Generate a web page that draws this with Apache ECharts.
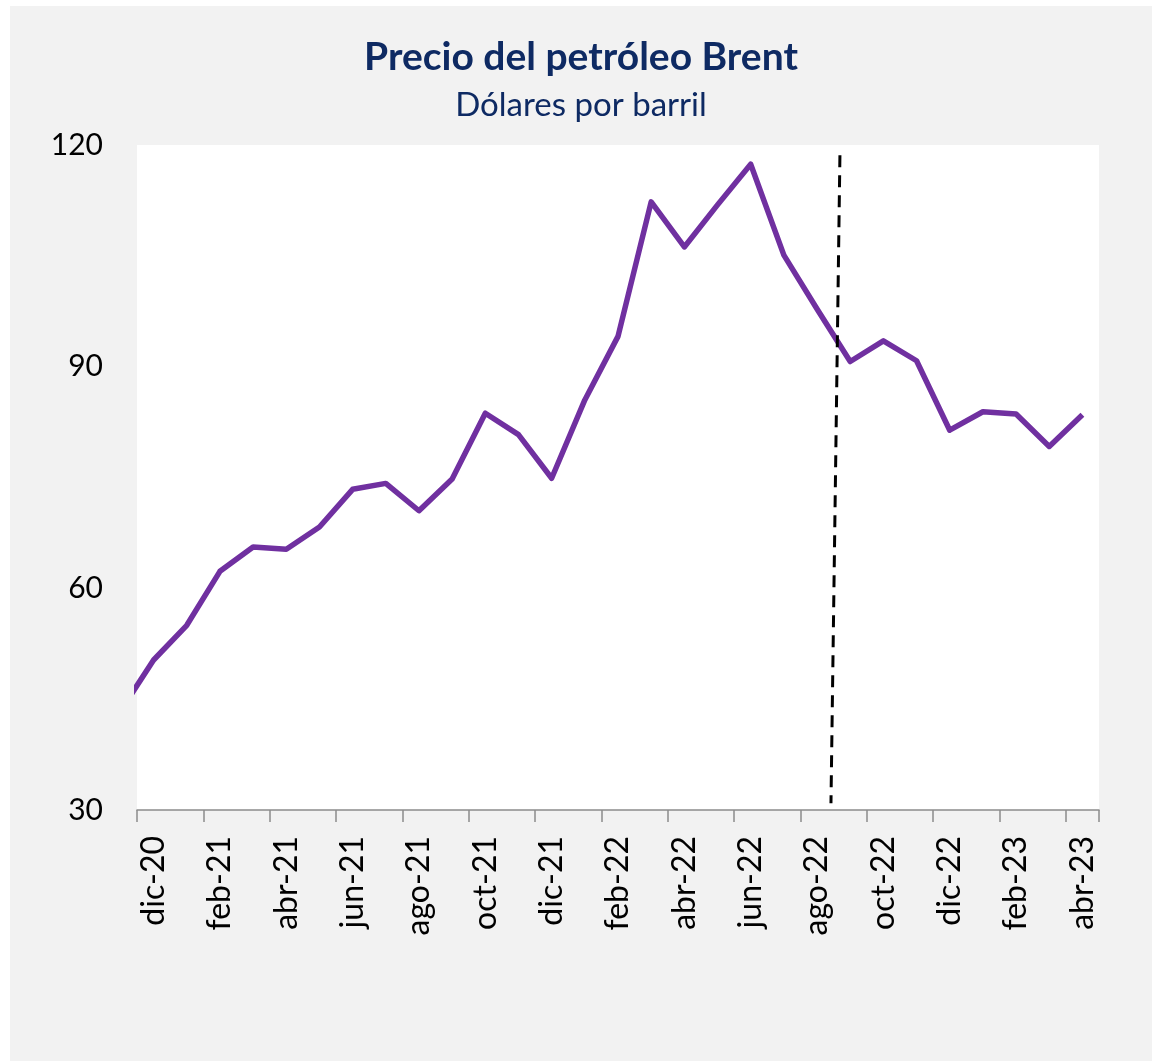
<!DOCTYPE html>
<html>
<head>
<meta charset="utf-8">
<script src="https://cdn.jsdelivr.net/npm/echarts@6/dist/echarts.min.js"></script>
<style>
    html, body { margin: 0; padding: 0; background: #ffffff; }
    #main { position: absolute; left: 10px; top: 6px; width: 1142px; height: 1055px; background: #f2f2f2; }
</style>
</head>
<body>
<div id="main"></div>
<script>
// meses mostrados en el eje (dic-20 a abr-23)
var months = ['dic-20', 'ene-21', 'feb-21', 'mar-21', 'abr-21', 'may-21', 'jun-21', 'jul-21', 'ago-21', 'sep-21',
    'oct-21', 'nov-21', 'dic-21', 'ene-22', 'feb-22', 'mar-22', 'abr-22', 'may-22', 'jun-22', 'jul-22',
    'ago-22', 'sep-22', 'oct-22', 'nov-22', 'dic-22', 'ene-23', 'feb-23', 'mar-23', 'abr-23'];
// precio promedio mensual, US$/barril
var brent = [50.3, 55.0, 62.3, 65.6, 65.3, 68.3, 73.4, 74.2, 70.5, 74.8,
    83.7, 80.8, 74.9, 85.5, 94.1, 112.3, 106.2, 111.9, 117.4, 105.1,
    97.8, 90.7, 93.5, 90.8, 81.4, 83.9, 83.6, 79.2, 83.5];
// nov-20, solo se ve el tramo que entra por la izquierda
var prevMonth = 43.4;
// linea vertical punteada (posicion en meses, valor)
var cutLine = [[20.69, 118.6], [20.42, 30.9]];
var yTicks = [30, 60, 90, 120];

var navy = '#0e2a63';
var font = 'Lato, "Open Sans", sans-serif';

var lineData = [[-1, prevMonth]];
for (var i = 0; i < brent.length; i++) {
    lineData.push([i, brent[i]]);
}

var myChart = echarts.init(document.getElementById('main'));
var option = {
    backgroundColor: '#f2f2f2',
    animation: false,
    textStyle: { fontFamily: font },
    title: {
        text: 'Precio del petróleo Brent',
        subtext: 'Dólares por barril',
        left: 'center',
        top: 27,
        itemGap: 12,
        textStyle: { color: navy, fontSize: 39, fontWeight: 'bold', fontFamily: font },
        subtextStyle: { color: navy, fontSize: 33, fontFamily: font }
    },
    grid: {
        left: 127,
        right: 53,
        top: 139,
        bottom: 251,
        show: true,
        backgroundColor: '#ffffff',
        borderWidth: 0
    },
    xAxis: [{
        type: 'category',
        data: months,
        boundaryGap: true,
        axisLine: { show: true, lineStyle: { color: '#8c8c8c', width: 1.5 } },
        axisTick: { show: true, interval: 1, length: 12, lineStyle: { color: '#8c8c8c', width: 1.5 } },
        axisLabel: {
            interval: 1,
            rotate: 90,
            margin: 26,
            color: '#000000',
            fontSize: 32,
            fontFamily: font
        },
        splitLine: { show: false }
    }, {
        type: 'value',
        min: -0.5,
        max: months.length - 0.5,
        show: false
    }],
    yAxis: {
        type: 'value',
        min: yTicks[0],
        max: yTicks[yTicks.length - 1],
        interval: 30,
        axisLine: { show: false },
        axisTick: { show: false },
        splitLine: { show: false },
        axisLabel: { margin: 34, color: '#000000', fontSize: 30, fontFamily: font }
    },
    series: [{
        name: 'Brent',
        type: 'line',
        xAxisIndex: 1,
        data: lineData,
        clip: true,
        symbol: 'none',
        lineStyle: { color: '#7030a0', width: 5.5, join: 'round' },
        markLine: {
            silent: true,
            symbol: ['none', 'none'],
            label: { show: false },
            lineStyle: { color: '#000000', width: 3, type: [12, 8] },
            data: [[{ coord: cutLine[0] }, { coord: cutLine[1] }]]
        }
    }]
};
myChart.setOption(option);
</script>
</body>
</html>
